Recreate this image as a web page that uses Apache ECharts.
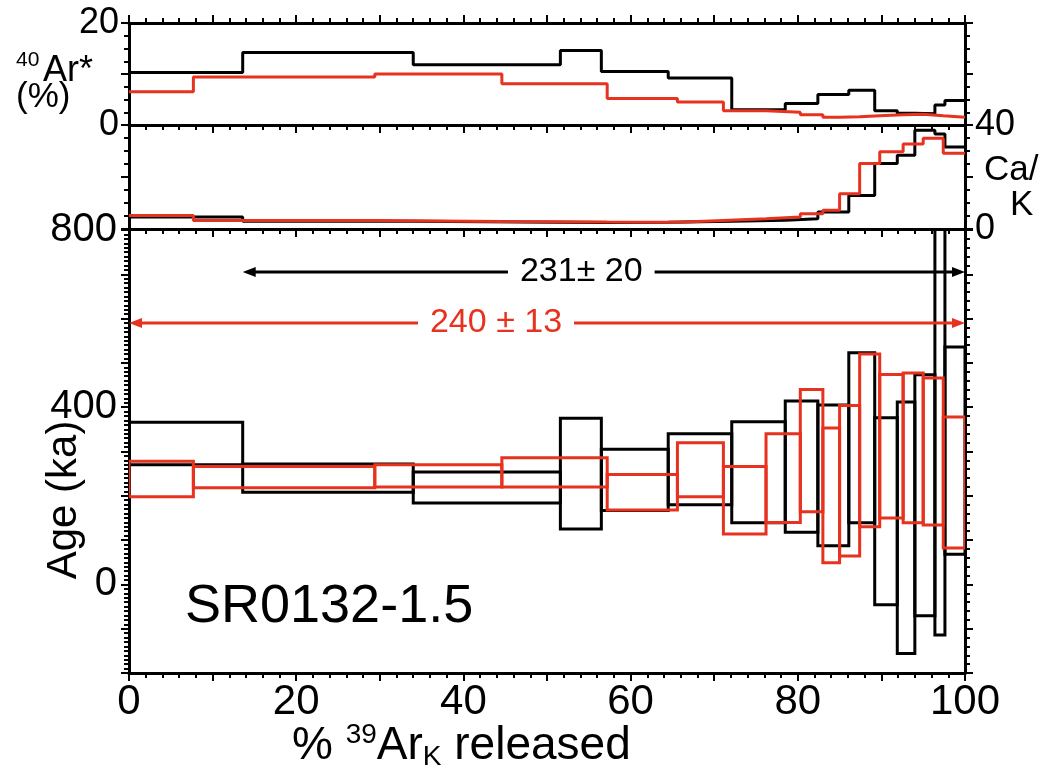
<!DOCTYPE html>
<html>
<head>
<meta charset="utf-8">
<script src="https://cdn.jsdelivr.net/npm/echarts@6/dist/echarts.min.js"></script>
<style>
  html, body { margin: 0; padding: 0; background: #fff; }
  #chart { width: 1060px; height: 769px; }
</style>
</head>
<body>
<div id="chart"></div>
<script>
// Cumulative % 39ArK released at each step boundary
const blackEdges = [0, 13.6, 34.0, 51.6, 56.5, 64.5, 72.1, 78.5, 82.4, 86.1, 89.2, 91.9, 94.0, 96.4, 97.6, 100];
const redEdges   = [0, 7.7, 29.4, 44.6, 57.2, 65.6, 71.1, 76.2, 80.3, 83.0, 85.0, 87.4, 89.8, 92.6, 95.0, 97.4, 100];

// Radiogenic 40Ar* (%) per step
const blackRadPct = [10.3, 14.2, 11.8, 14.6, 10.5, 9.2, 3.0, 4.2, 6.0, 6.8, 2.8, 2.3, 2.2, 3.9, 4.8];
const redRadPct   = [6.5, 9.4, 10.0, 8.1, 5.2, 4.5, 2.8, 2.5, 2.0, 1.5, 1.6, 1.8, 2.0, 2.1, 1.8, 1.5];

// Ca/K per step
const blackCaK = [4.6, 3.0, 2.6, 2.5, 2.6, 3.0, 3.4, 3.9, 6.5, 12.9, 25.2, 28.4, 38.0, 36.5, 31.5];
const redCaK   = [5.2, 3.3, 2.9, 2.7, 2.6, 3.3, 3.9, 4.6, 5.9, 7.2, 13.6, 25.2, 29.7, 32.7, 34.9, 29.1];

// Step ages (ka) and box half-heights (ka)
const blackAge = [318, 240, 219, 250, 236, 260, 253, 266, 246, 331, 165, 128, 201, 460, 302];
const blackErr = [48, 32, 35, 125, 69, 80, 114, 148, 159, 192, 211, 284, 272, 574, 234];
const redAge   = [238, 242, 245, 253, 208, 259, 190, 240, 302, 201, 234, 325, 312, 308, 300, 230];
const redErr   = [40, 24, 25, 33, 40, 61, 76, 100, 138, 152, 170, 195, 162, 169, 166, 148];

// Plateau ages: first step %, last step %, age (ka), error (ka), label
const plateauStart = [13.6, 0];
const plateauEnd   = [100, 100];
const plateauAge   = [231, 240];
const plateauErr   = [20, 13];
const plateauLabel = ['231± 20', '240 ± 13'];

const sampleName = 'SR0132-1.5';

const RED = '#e6321e';
const BLACK = '#000';
const FONT = "'Liberation Sans', Arial, Helvetica, sans-serif";

// where each plateau arrow sits and where its label is centred
const plateauLayout = [
  { level: 705, textAt: 54.1, color: BLACK },
  { level: 590, textAt: 43.9, color: RED }
];

function stepData(edges, vals) {
  const d = vals.map((v, i) => [edges[i], v]);
  d.push([edges[edges.length - 1], vals[vals.length - 1]]);
  return d;
}

function boxData(edges, age, err) {
  return age.map((a, i) => [edges[i], edges[i + 1], a - err[i], a + err[i]]);
}

const measureCtx = document.createElement('canvas').getContext('2d');
function textWidth(str, size) {
  measureCtx.font = size + 'px ' + FONT;
  return measureCtx.measureText(str).width;
}

const tickStyle = { show: true, length: 8, lineStyle: { color: BLACK, width: 2 } };
const minorStyle = (n) => ({ show: true, splitNumber: n, length: 5, lineStyle: { color: BLACK, width: 2 } });
const lineStyle = { show: true, onZero: false, lineStyle: { color: BLACK, width: 3 } };

function xAx(grid, position, labelSize) {
  return {
    type: 'value', gridIndex: grid, position: position, min: 0, max: 100, interval: 10,
    axisLine: lineStyle, axisTick: Object.assign({ inside: false }, tickStyle), minorTick: minorStyle(5),
    splitLine: { show: false },
    axisLabel: labelSize ? { show: true, margin: 8, interval: 0, showMinLabel: true, showMaxLabel: true,
      color: BLACK, fontSize: labelSize, fontFamily: FONT,
      formatter: v => (v % 20 === 0 ? String(v) : '') } : { show: false }
  };
}

function yAx(grid, position, min, max, interval, minorSplit, labelEvery, labelSize, margin) {
  return {
    type: 'value', gridIndex: grid, position: position, min: min, max: max, interval: interval,
    axisLine: lineStyle, axisTick: Object.assign({ inside: false }, tickStyle), minorTick: minorStyle(minorSplit),
    splitLine: { show: false },
    axisLabel: labelEvery ? { show: true, margin: margin, showMinLabel: true, showMaxLabel: true,
      color: BLACK, fontSize: labelSize, fontFamily: FONT,
      formatter: v => (v % labelEvery === 0 ? String(v) : '') } : { show: false }
  };
}

function boxSeries(data, color, xi, yi) {
  return {
    type: 'custom', xAxisIndex: xi, yAxisIndex: yi, clip: true, data: data, z: 3,
    renderItem: function (params, api) {
      const p0 = api.coord([api.value(0), api.value(3)]);
      const p1 = api.coord([api.value(1), api.value(2)]);
      return {
        type: 'rect',
        shape: { x: p0[0], y: p0[1], width: p1[0] - p0[0], height: p1[1] - p0[1] },
        style: { fill: 'none', stroke: color, lineWidth: 3 }
      };
    }
  };
}

const chart = echarts.init(document.getElementById('chart'), null, { renderer: 'canvas' });

const option = {
  animation: false,
  backgroundColor: '#fff',
  grid: [
    { left: 129, top: 23, width: 836, height: 102 },
    { left: 129, top: 125, width: 836, height: 104 },
    { left: 129, top: 230, width: 836, height: 443 }
  ],
  xAxis: [
    xAx(0, 'top', 0),
    xAx(0, 'bottom', 0),
    xAx(1, 'bottom', 0),
    xAx(2, 'bottom', 42)
  ],
  yAxis: [
    yAx(0, 'left', 0, 20, 10, 4, 20, 36, 10),
    yAx(0, 'right', 0, 20, 10, 4, 0),
    yAx(1, 'left', 0, 40, 20, 4, 0),
    yAx(1, 'right', 0, 40, 20, 4, 40, 36, 10),
    yAx(2, 'left', -200, 800, 100, 10, 400, 40, 12),
    yAx(2, 'right', -200, 800, 100, 5, 0)
  ],
  series: [
    { type: 'line', step: 'end', xAxisIndex: 1, yAxisIndex: 0, symbol: 'none',
      data: stepData(blackEdges, blackRadPct), lineStyle: { color: BLACK, width: 3 }, z: 3 },
    { type: 'line', step: 'end', xAxisIndex: 1, yAxisIndex: 0, symbol: 'none',
      data: stepData(redEdges, redRadPct), lineStyle: { color: RED, width: 3 }, z: 4 },
    { type: 'line', step: 'end', xAxisIndex: 2, yAxisIndex: 2, symbol: 'none',
      data: stepData(blackEdges, blackCaK), lineStyle: { color: BLACK, width: 3 }, z: 3 },
    { type: 'line', step: 'end', xAxisIndex: 2, yAxisIndex: 2, symbol: 'none',
      data: stepData(redEdges, redCaK), lineStyle: { color: RED, width: 3 }, z: 4 },
    boxSeries(boxData(blackEdges, blackAge, blackErr), BLACK, 3, 4),
    boxSeries(boxData(redEdges, redAge, redErr), RED, 3, 4),
    {
      type: 'custom', xAxisIndex: 3, yAxisIndex: 4, z: 5,
      data: plateauAge.map((a, i) => [plateauStart[i], plateauEnd[i], a, plateauErr[i]]),
      renderItem: function (params, api) {
        const i = params.dataIndex;
        const lay = plateauLayout[i];
        const a = api.coord([api.value(0), lay.level]);
        const b = api.coord([api.value(1), lay.level]);
        const c = api.coord([lay.textAt, lay.level]);
        const fs = 34;
        const w = textWidth(plateauLabel[i], fs);
        const gap = 12, ah = 13, aw = 5;
        const y = a[1];
        const st = { stroke: lay.color, lineWidth: 3 };
        return {
          type: 'group',
          children: [
            { type: 'line', shape: { x1: a[0] + ah - 2, y1: y, x2: c[0] - w / 2 - gap, y2: y }, style: st },
            { type: 'line', shape: { x1: c[0] + w / 2 + gap, y1: y, x2: b[0] - ah + 2, y2: y }, style: st },
            { type: 'polygon', shape: { points: [[a[0], y], [a[0] + ah, y - aw], [a[0] + ah, y + aw]] }, style: { fill: lay.color } },
            { type: 'polygon', shape: { points: [[b[0], y], [b[0] - ah, y - aw], [b[0] - ah, y + aw]] }, style: { fill: lay.color } },
            { type: 'text', x: c[0], y: y,
              style: { text: plateauLabel[i], fill: lay.color, fontSize: fs, fontFamily: FONT,
                       align: 'center', verticalAlign: 'middle', textAlign: 'center', textVerticalAlign: 'middle' } }
          ]
        };
      }
    }
  ],
  graphic: [
    { type: 'text', left: 16, top: 50, style: { text: '40', fontSize: 21, fontFamily: FONT, fill: BLACK } },
    { type: 'text', left: 43, top: 53, style: { text: 'Ar*', fontSize: 36, fontFamily: FONT, fill: BLACK } },
    { type: 'text', left: 16, top: 80, style: { text: '(%)', fontSize: 35, fontFamily: FONT, fill: BLACK } },
    { type: 'text', left: 984, top: 153, style: { text: 'Ca/', fontSize: 35, fontFamily: FONT, fill: BLACK } },
    { type: 'text', left: 1010, top: 188, style: { text: 'K', fontSize: 35, fontFamily: FONT, fill: BLACK } },
    { type: 'text', x: 64, y: 500, rotation: Math.PI / 2,
      style: { text: 'Age (ka)', fontSize: 42, fontFamily: FONT, fill: BLACK, align: 'center', verticalAlign: 'middle' } },
    { type: 'text', left: 185, top: 580, style: { text: sampleName, fontSize: 54, fontFamily: FONT, fill: BLACK } },
    { type: 'text', left: 292, top: 721,
      style: {
        rich: {
          n: { fontSize: 46, fontFamily: FONT, fill: BLACK, lineHeight: 50 },
          sup: { fontSize: 28, fontFamily: FONT, fill: BLACK, verticalAlign: 'top', lineHeight: 28 },
          sub: { fontSize: 28, fontFamily: FONT, fill: BLACK, verticalAlign: 'bottom', lineHeight: 22 }
        },
        text: '{n|% }{sup|39}{n|Ar}{sub|K}{n| released}'
      } }
  ]
};

chart.setOption(option);
</script>
</body>
</html>
